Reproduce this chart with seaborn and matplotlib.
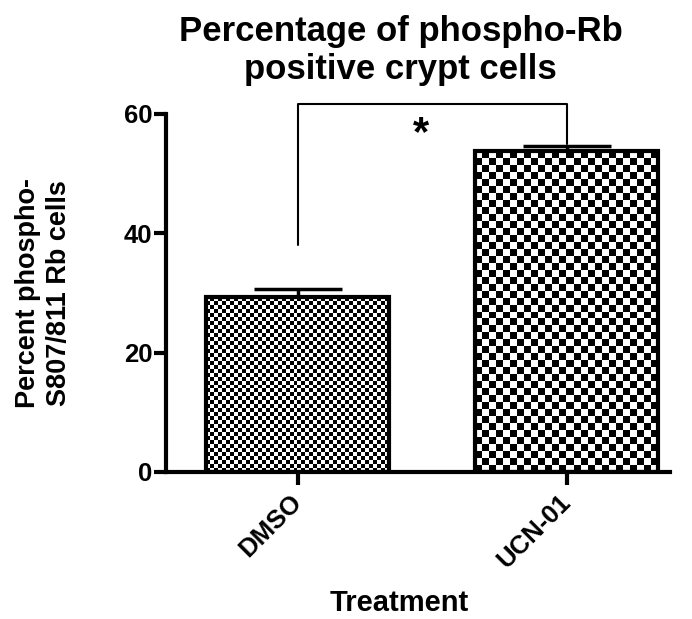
import numpy as np
import pandas as pd
import matplotlib
matplotlib.use("Agg")
import matplotlib.pyplot as plt
import matplotlib.transforms as mtransforms
import seaborn as sns

categories = ["DMSO", "UCN-01"]
means = [29.3, 53.7]
sems = [1.3, 1.0]
yticks = [0, 20, 40, 60]
sig_label = "*"

sns.set_style("ticks")
plt.rcParams['font.family'] = ['Liberation Sans', 'DejaVu Sans']
plt.rcParams['font.weight'] = 'bold'
for k in ["text.color", "axes.labelcolor", "xtick.color", "ytick.color", "axes.edgecolor"]:
    plt.rcParams[k] = "black"

fig = plt.figure(figsize=(6.92, 6.19), dpi=100)
ax = fig.add_axes([0.240, 0.2375, 0.728, 0.5785])

df = pd.DataFrame({"Treatment": categories, "val": means})
sns.barplot(data=df, x="Treatment", y="val", color="white", edgecolor="black",
            linewidth=3, width=0.68, ax=ax, errorbar=None, saturation=1)

ax.errorbar(range(len(categories)), means, yerr=[[0]*len(sems), sems], fmt="none",
            ecolor="black", elinewidth=2.5, capsize=32, capthick=2.5, zorder=1)

ax.set_xlim(-0.49, 1.383)
ax.set_ylim(0, 60)
ax.set_yticks(yticks)

fig.canvas.draw()
sq_sizes = [4.0, 7.0]
for patch, sq in zip(ax.patches, sq_sizes):
    bb = patch.get_window_extent()
    nx = max(1, int(round(bb.width / sq)))
    ny = max(1, int(round(bb.height / sq)))
    yy, xx = np.mgrid[0:ny, 0:nx]
    board = ((xx + yy) % 2).astype(float)
    x0, y0 = patch.get_x(), patch.get_y()
    w, h = patch.get_width(), patch.get_height()
    im = ax.imshow(board, cmap="gray", vmin=0, vmax=1, interpolation="nearest",
                   extent=[x0, x0 + w, y0 + h, y0], aspect="auto", zorder=1.5)
    im.set_clip_path(patch)
    patch.set_zorder(2)
    patch.set_facecolor("none")

ax.set_xlim(-0.49, 1.383)
ax.set_ylim(0, 60)

# significance bracket
top = 61.6
ax.plot([0, 0, 1, 1], [38.0, top, top, 54.9], color="black", lw=1.5, clip_on=False)
ax.text(0.457, 56.6, sig_label, ha="center", va="center", fontsize=30, fontweight="bold")

for s in ["top", "right"]:
    ax.spines[s].set_visible(False)
for s in ["left", "bottom"]:
    ax.spines[s].set_linewidth(3)
ax.tick_params(axis="y", width=3, length=9, pad=1, labelsize=18.5)
ax.tick_params(axis="x", width=3, length=9, pad=4, labelsize=18.5)
offset = mtransforms.ScaledTranslation(-6 / 72, 0, fig.dpi_scale_trans)
for lab in ax.get_yticklabels():
    lab.set_fontweight("bold")
for lab in ax.get_xticklabels():
    lab.set_fontweight("bold")
    lab.set_rotation(45)
    lab.set_ha("right")
    lab.set_rotation_mode("anchor")
    lab.set_transform(lab.get_transform() + offset)

ax.set_xlabel("Treatment", fontsize=21, fontweight="bold", labelpad=12, x=0.462)
ax.set_ylabel("Percent phospho-\nS807/811 Rb cells", fontsize=19.5, fontweight="bold",
              labelpad=37, linespacing=1.25)
ax.set_title("Percentage of phospho-Rb\npositive crypt cells", fontsize=25, fontweight="bold",
             pad=25, x=0.466)

fig.savefig("out.png", dpi=100)
